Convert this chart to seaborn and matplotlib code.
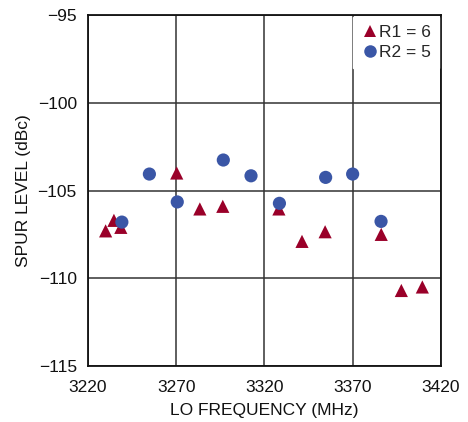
import pandas as pd
import matplotlib.pyplot as plt
import seaborn as sns

# ---------- data ----------
r1_freq = [3230, 3234.7, 3238.6, 3270.3, 3283.4, 3296.4, 3328.2, 3341.3, 3354.4, 3386.2, 3397.6, 3409.5]
r1_spur = [-107.3, -106.7, -107.1, -104.0, -106.05, -105.9, -106.05, -107.9, -107.35, -107.5, -110.7, -110.5]
r2_freq = [3239.2, 3254.8, 3270.6, 3296.7, 3312.4, 3328.5, 3354.7, 3370.0, 3386.1]
r2_spur = [-106.8, -104.06, -105.65, -103.26, -104.16, -105.73, -104.25, -104.06, -106.76]
x_ticks = [3220, 3270, 3320, 3370, 3420]
y_ticks = [-95, -100, -105, -110, -115]

df = pd.concat([
    pd.DataFrame({'freq': r1_freq, 'spur': r1_spur, 'series': 'R1 = 6'}),
    pd.DataFrame({'freq': r2_freq, 'spur': r2_spur, 'series': 'R2 = 5'}),
])

sns.set_style('white')
plt.rcParams['font.family'] = ['Liberation Sans', 'DejaVu Sans']
plt.rcParams['axes.unicode_minus'] = True

fig = plt.figure(figsize=(4.68, 4.22), dpi=100)
ax = fig.add_axes([0.188, 0.133, 0.754, 0.831])

sns.scatterplot(data=df, x='freq', y='spur', hue='series', style='series',
                markers={'R1 = 6': '^', 'R2 = 5': 'o'},
                palette={'R1 = 6': '#9a0029', 'R2 = 5': '#3a56a6'},
                s=90, linewidth=0, ax=ax, zorder=3)

ax.set_xlim(3220, 3420)
ax.set_ylim(-115, -95)
ax.set_xticks(x_ticks)
ax.set_yticks(y_ticks)
ax.set_yticklabels(['\u221295', '\u2212100', '\u2212105', '\u2212110', '\u2212115'])
ax.grid(True, color='#333333', linewidth=1.1)
ax.tick_params(axis='y', length=0, labelsize=12.5, pad=8, colors='#111111')
ax.tick_params(axis='x', length=0, labelsize=12.5, pad=10, colors='#111111')
for s in ax.spines.values():
    s.set_color('#111111'); s.set_linewidth(1.3)
ax.set_xlabel('LO FREQUENCY (MHz)', fontsize=12.5, labelpad=6, color='#111111')
ax.set_ylabel('SPUR LEVEL (dBc)', fontsize=12.5, labelpad=5, color='#111111')

leg = ax.legend(loc='upper right', fontsize=12.5, frameon=True, fancybox=False,
                handletextpad=0.05, handlelength=1.0, borderpad=0.45, labelspacing=0.3,
                markerscale=0.95, borderaxespad=0.1)
leg.get_frame().set_edgecolor('white')
leg.get_frame().set_alpha(1)

fig.savefig('out.png', dpi=100)
